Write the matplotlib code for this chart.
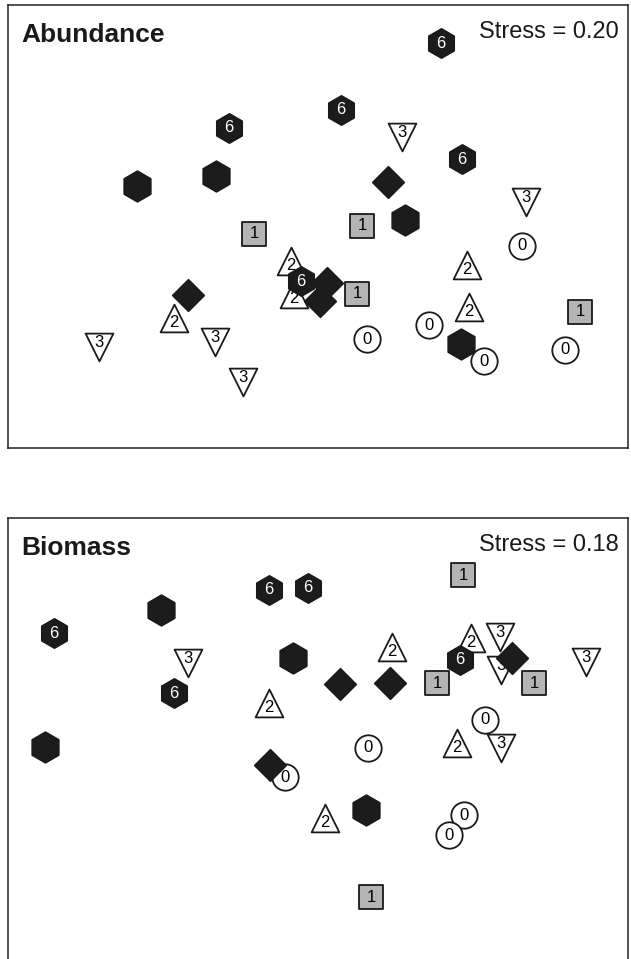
import matplotlib
matplotlib.use("Agg")
import matplotlib.pyplot as plt

plt.rcParams['font.family'] = ['Liberation Sans', 'DejaVu Sans']

# MDS ordination coordinates (arbitrary units), one list per station group
# --- Abundance ---
ab_g0 = [(514, 202), (359, 109), (421, 123), (476, 87), (557, 98)]
ab_g1 = [(246, 214), (354, 222), (349, 154), (572, 136)]
ab_g2 = [(283, 187), (286, 154), (459, 183), (461, 141), (166, 130)]
ab_g3 = [(394, 311), (518, 246), (91, 101), (207, 106), (235, 66)]
ab_g6 = [(433, 405), (333, 338), (221, 320), (454, 289), (293, 167)]
ab_hex = [(129, 262), (208, 272), (397, 228), (453, 104)]
ab_dia = [(380, 266), (180, 153), (319, 165), (312, 147)]

# --- Biomass ---
bm_g0 = [(477, 241), (360, 213), (277, 184), (456, 146), (441, 126)]
bm_g1 = [(455, 386), (429, 278), (526, 278), (363, 64)]
bm_g2 = [(384, 314), (463, 323), (261, 258), (449, 218), (317, 143)]
bm_g3 = [(492, 324), (493, 291), (578, 299), (180, 298), (493, 213)]
bm_g6 = [(261, 371), (300, 373), (46, 328), (166, 268), (452, 301)]
bm_hex = [(153, 351), (285, 303), (37, 214), (358, 151)]
bm_dia = [(332, 277), (382, 278), (504, 303), (262, 196)]

stress = {'Abundance': 0.20, 'Biomass': 0.18}


def draw_group(ax, pts, marker, size, face, label=None, txtcolor='black',
               dy=0, z=2):
    xs = [p[0] for p in pts]
    ys = [p[1] for p in pts]
    ax.scatter(xs, ys, s=size ** 2, marker=marker, facecolor=face,
               edgecolor='#1a1a1a', linewidth=1.3, zorder=z)
    if label is not None:
        for x, y in pts:
            ax.annotate(label, (x, y), xytext=(0, dy), textcoords='offset points',
                        ha='center', va='center', fontsize=12, color=txtcolor,
                        zorder=z + 0.5)


def panel(ax, title, g0, g1, g2, g3, g6, hexes, dia):
    draw_group(ax, g2, '^', 20, 'white', '2', dy=-3, z=2)
    draw_group(ax, g3, 'v', 20, 'white', '3', dy=3, z=3)
    draw_group(ax, g6, 'h', 21, '#1c1c1c', '6', txtcolor='white', z=4)
    draw_group(ax, hexes, 'h', 22, '#1c1c1c', z=4)
    draw_group(ax, g0, 'o', 19, 'white', '0', z=6)
    draw_group(ax, dia, 'D', 16, '#1c1c1c', z=7)
    draw_group(ax, g1, 's', 17, '#b4b4b4', '1', z=8)

    ax.set_xlim(0, 620)
    ax.set_ylim(0, 443)
    ax.set_xticks([])
    ax.set_yticks([])
    for sp in ax.spines.values():
        sp.set_linewidth(1.1)
        sp.set_color('#222222')
    ax.text(0.022, 0.932, title, transform=ax.transAxes, fontsize=19,
            fontweight='bold', ha='left', va='center', color='#1a1a1a')
    ax.text(0.985, 0.940, f'Stress = {stress[title]:.2f}', transform=ax.transAxes,
            fontsize=17, ha='right', va='center', color='#1a1a1a')


fig = plt.figure(figsize=(6.31, 9.59), dpi=100)
ax1 = fig.add_axes([8 / 631, 1 - 448 / 959, 620 / 631, 443 / 959])
ax2 = fig.add_axes([8 / 631, 1 - 961 / 959, 620 / 631, 443 / 959])

panel(ax1, 'Abundance', ab_g0, ab_g1, ab_g2, ab_g3, ab_g6, ab_hex, ab_dia)
panel(ax2, 'Biomass', bm_g0, bm_g1, bm_g2, bm_g3, bm_g6, bm_hex, bm_dia)

fig.savefig('out.png', dpi=100)
